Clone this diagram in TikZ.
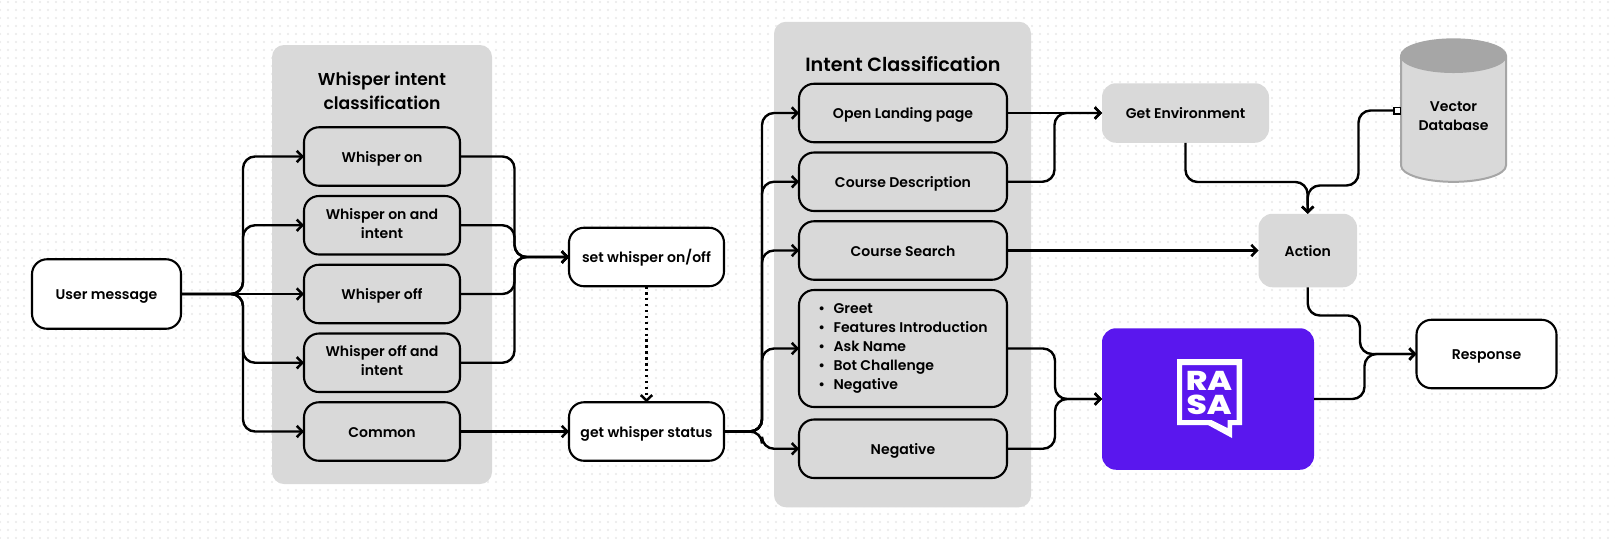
\documentclass[tikz,border=0pt]{standalone}
\usepackage{xcolor}
\usepackage{fontspec}
\setmainfont{Poppins SemiBold}[BoldFont={Poppins SemiBold}]
\newfontfamily\logofont{Poppins ExtraBold}
\usetikzlibrary{arrows.meta, patterns.meta, positioning, shapes.geometric}
\definecolor{panelgray}{HTML}{D9D9D9}
\definecolor{topgray}{HTML}{A6A6A6}
\definecolor{rasapurple}{HTML}{5A17EE}
\definecolor{griddot}{HTML}{E8E8E8}
\tikzset{
    >={Straight Barb[length=1.1mm,width=2.3mm,line width=.5mm]},
    nodetop/.store in=\nodetop, nodetop=\rule{0pt}{1.1em},
    txt/.style={font=\fontsize{8}{10.8}\selectfont, align=center, text=black, outer sep=0,
        execute at begin node={\nodetop}, execute at end node={\rule[-.3em]{0pt}{.3em}}},
    multiline/.style={nodetop={\vspace*{#1}}},
    panel/.style={fill=panelgray, rounded corners=.24cm},
    paneltitle/.style={font=\fontsize{9.8}{13.6}\selectfont, align=center, outer sep=0},
    whitebox/.style={txt, draw, line width=.042cm, fill=white, rounded corners=.3cm},
    innerbox/.style={whitebox, fill=panelgray},
    wbox/.style={innerbox, minimum width=3.12cm, minimum height=1.17cm},
    ibox/.style={innerbox, minimum width=4.16cm, minimum height=1.17cm},
    graybox/.style={txt, fill=panelgray, rounded corners=.28cm},
    flow/.style={->, line width=.048cm, rounded corners=.24cm},
}

\begin{document}
\begin{tikzpicture}

    \useasboundingbox (0,0) rectangle (32.3,-10.76);
    \fill[white] (0,0) rectangle (32.3,-10.76);
    \fill[pattern={Dots[distance=.16cm, radius=.022cm]}, pattern color=griddot] (0,0) rectangle (32.3,-10.76);

    \node[panel, minimum width=4.4cm, minimum height=8.78cm] (wpanel) at (7.64,-5.29) {};
    \node[panel, minimum width=5.14cm, minimum height=9.71cm] (ipanel) at (18.05,-5.29) {};

    \node[whitebox, minimum width=2.98cm, minimum height=1.39cm] (user) at (2.13,-5.88) {User message};

    \node[wbox, right=2.46 of user] (woff) {Whisper off};
    \node[wbox, multiline=2.3pt, above=.205 of woff] (wonint) {Whisper on and\\intent};
    \node[wbox, above=.205 of wonint] (won) {Whisper on};
    \node[wbox, multiline=2.3pt, below=.205 of woff] (woffint) {Whisper off and\\intent};
    \node[wbox, below=.205 of woffint] (wcommon) {Common};
    \node[paneltitle, above=.24 of won] (wtitle) {Whisper intent\\classification};

    \node[whitebox, minimum width=3.1cm, minimum height=1.17cm, right=2.18 of wcommon] (getw) {get whisper status};
    \node[whitebox, minimum width=3.1cm, minimum height=1.17cm, above=2.32 of getw] (setw) {set whisper on/off};

    \node[ibox] (open) at (18.06,-2.26) {Open Landing page};
    \node[ibox, below=.205 of open] (desc) {Course Description};
    \node[ibox, below=.205 of desc] (search) {Course Search};
    \node[ibox, multiline=3.5pt, below=.205 of search, minimum height=2.34cm, align=left] (list)
        {\textbullet\hspace{.6em}Greet\\\textbullet\hspace{.6em}Features Introduction\\\textbullet\hspace{.6em}Ask Name\\\textbullet\hspace{.6em}Bot Challenge\\\textbullet\hspace{.6em}Negative};
    \node[ibox, below=.25 of list] (neg) {Negative};
    \node[paneltitle, font=\fontsize{10.9}{14}\selectfont, above=.12 of open] (ititle) {Intent Classification};

    \node[graybox, minimum width=3.34cm, minimum height=1.19cm, right=1.9 of open] (genv) {Get Environment};
    \node[graybox, minimum width=1.97cm, minimum height=1.47cm, right=5.03 of search] (action) {Action};
    \node[fill=rasapurple, rounded corners=.28cm, minimum width=4.24cm, minimum height=2.83cm, outer sep=0] (rasa) at (24.16,-7.98) {};
    \node[whitebox, minimum width=2.8cm, minimum height=1.37cm] (resp) at (29.73,-7.08) {Response};
    \node[cylinder, shape border rotate=90, aspect=.4, draw=topgray, line width=.04cm, cylinder uses custom fill,
        cylinder body fill=panelgray, cylinder end fill=topgray, minimum width=2.1cm, minimum height=2.85cm,
        txt] (vdb) at (29.07,-2.46) {Vector\\Database\rule[-7.7pt]{0pt}{1pt}};

    % rasa logo
    \fill[white, even odd rule] (23.54,-7.18) -- (24.84,-7.18) -- (24.84,-8.5) -- (24.64,-8.5) -- (24.64,-8.76) -- (24.16,-8.5) -- (23.54,-8.5) -- cycle
        (23.64,-7.30) -- (24.73,-7.30) -- (24.73,-8.40) -- (24.55,-8.40) -- (24.55,-8.56) -- (24.23,-8.40) -- (23.64,-8.40) -- cycle;
    \node[text=white, inner sep=0, align=center, transform shape, xscale=1.2, font=\fontsize{15.5}{13.7}\logofont] (rasalogo) at (24.18,-7.86) {RA\\SA};

    \coordinate[right=1.24 of user] (utrunk);
    \coordinate[left=1.09 of setw] (wbus);
    \coordinate[right=.76 of getw] (gtrunk);
    \coordinate[right=.95 of open] (ebus);
    \coordinate (rbus) at (21.1,-7.98);
    \coordinate (vbend) at (27.17,-3.71);
    \coordinate (ebend) at (26.15,-3.64);
    \coordinate (abend) at (27.2,-6.31);
    \coordinate[left=1.04 of resp] (rjoin);

    \foreach \n in {won,wonint,woffint,wcommon}
        \draw[flow] (user.east) -- (utrunk) |- (\n.west);
    \draw[flow] (user.east) -- (woff.west);

    \foreach \n in {won,wonint,woff,woffint}
        \draw[flow] (\n.east) -| (wbus) -- (setw.west);
    \draw[flow] (wcommon.east) -- (getw.west);
    \draw[flow, dotted] (setw.south) -- (getw.north);

    \foreach \n in {open,desc,search,list,neg}
        \draw[flow] (getw.east) -- (gtrunk) |- (\n.west);

    \draw[flow] (open.east) -- (genv.west);
    \draw[flow] (desc.east) -| (ebus) -- (genv.west);
    \draw[flow] (search.east) -- (action.west);
    \draw[flow] (list.east) -| (rbus) -- (rasa.west);
    \draw[flow] (neg.east) -| (rbus) -- (rasa.west);

    \draw[flow] (genv.south) |- (ebend) -- (action.north);
    \draw[flow, {Square[open, fill=white, length=1.6mm, width=1.6mm, line width=.3mm]}->] ([yshift=.25cm]vdb.west) -| (vbend) -| (action.north);
    \draw[flow] (action.south) |- (abend) |- (resp.west);
    \draw[flow] (rasa.east) -| (rjoin) -- (resp.west);

\end{tikzpicture}
\end{document}
